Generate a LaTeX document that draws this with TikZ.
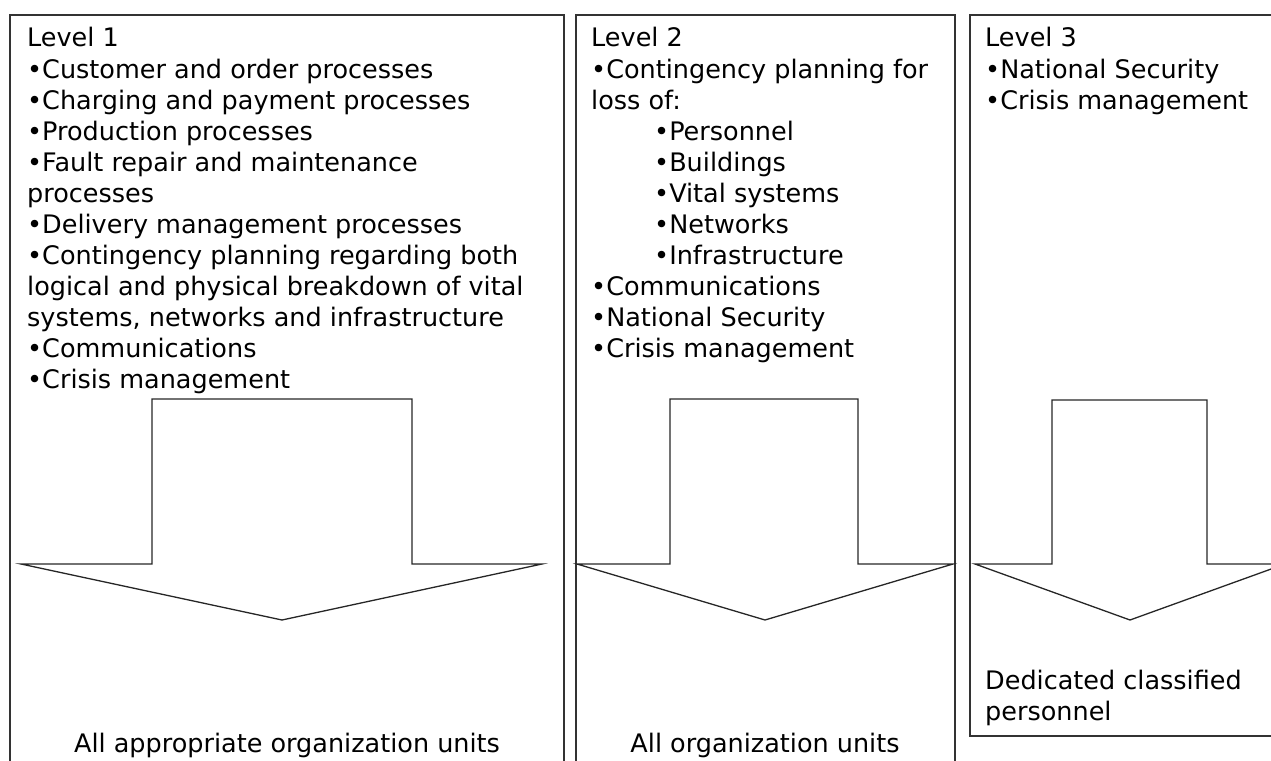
\documentclass[tikz,border=0pt]{standalone}
\usepackage{fontspec}
\setmainfont{DejaVu Sans}

\begin{document}
\begin{tikzpicture}[x=1pt,y=-1pt,
    txtline/.style={anchor=base west,inner sep=0pt,font=\fontsize{25.5}{31}\selectfont},
    unitline/.style={anchor=base,inner sep=0pt,font=\fontsize{25.5}{31}\selectfont},
    frame/.style={draw=black!80,line width=1.3pt},
    blockarrow/.style={draw=black!85,line width=1.3pt,line join=miter}]
    \useasboundingbox (0,0) rectangle (1271,760);
    \clip (0,0) rectangle (1271,760);
    % the three level frames
    \draw[frame] (10,790) -- (10,15) -- (564,15) -- (564,790);
    \draw[frame] (576,790) -- (576,15) -- (955,15) -- (955,790);
    \draw[frame] (1300,15) -- (970,15) -- (970,736) -- (1300,736);
    % block arrows
    \draw[blockarrow] (152,399) -- (412,399) -- (412,564) -- (542,564) -- (282,620) -- (21,564) -- (152,564) -- cycle;
    \draw[blockarrow] (670,399) -- (858,399) -- (858,564) -- (953,564) -- (765,620) -- (577,564) -- (670,564) -- cycle;
    \draw[blockarrow] (1052,400) -- (1207,400) -- (1207,564) -- (1285,564) -- (1130,620) -- (975,564) -- (1052,564) -- cycle;
    % level 1
    \foreach \txt [count=\i from 0] in {Level 1,
        •Customer and order processes,
        •Charging and payment processes,
        •Production processes,
        •Fault repair and maintenance,
        processes,
        •Delivery management processes,
        •Contingency planning regarding both,
        logical and physical breakdown of vital,
        {systems, networks and infrastructure},
        •Communications,
        •Crisis management}
        \node[txtline] (lone-\i) at (27,47+31*\i) {\txt};
    % level 2
    \foreach \txt [count=\i from 0] in {Level 2,
        •Contingency planning for,
        loss of:}
        \node[txtline] (ltwo-\i) at (591,47+31*\i) {\txt};
    \foreach \txt [count=\i from 3] in {•Personnel,
        •Buildings,
        •Vital systems,
        •Networks,
        •Infrastructure}
        \node[txtline] (ltwo-\i) at (654,47+31*\i) {\txt};
    \foreach \txt [count=\i from 8] in {•Communications,
        •National Security,
        •Crisis management}
        \node[txtline] (ltwo-\i) at (591,47+31*\i) {\txt};
    % level 3
    \foreach \txt [count=\i from 0] in {Level 3,
        •National Security,
        •Crisis management}
        \node[txtline] (lthree-\i) at (985,47+31*\i) {\txt};
    \node[txtline] (dedicated) at (985,689) {Dedicated classified};
    \node[txtline] (personnel) at (985,720) {personnel};
    % who is involved
    \node[unitline] (unitsone) at (287,752) {All appropriate organization units};
    \node[unitline] (unitstwo) at (765,752) {All organization units};
\end{tikzpicture}
\end{document}
